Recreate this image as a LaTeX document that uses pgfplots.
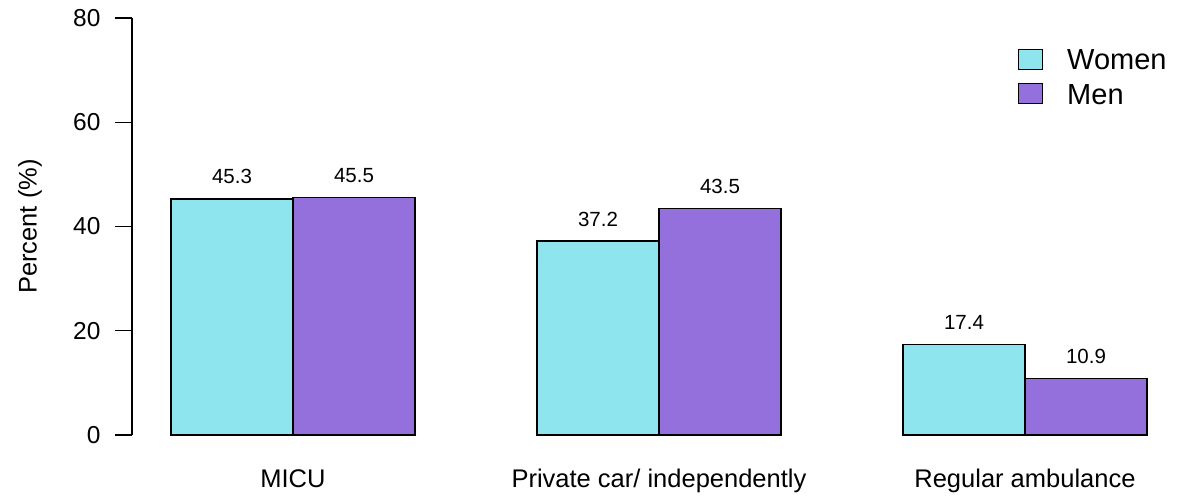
\documentclass[border=0pt]{standalone}
\usepackage{fontspec}
\setmainfont{Liberation Sans}
\usepackage{pgfplots}
\pgfplotsset{compat=1.18}
\definecolor{women}{HTML}{8EE5EE}
\definecolor{men}{HTML}{9370DB}
\begin{document}
\begin{tikzpicture}
\path[use as bounding box] (0,0) rectangle (1178bp,500bp);
\begin{axis}[
  at={(132bp,65bp)}, anchor=south west,
  scale only axis, width=1046bp, height=417bp,
  xmin=0.6803, xmax=9.2541, ymin=0, ymax=80,
  enlargelimits=false, clip=false,
  axis y line*=left, axis x line*=bottom,
  x axis line style={draw=none},
  y axis line style={-, line width=1.3bp},
  xtick={2,5,8},
  xticklabels={MICU, Private car/ independently, Regular ambulance},
  xtick style={draw=none},
  ytick={0,20,40,60,80},
  tick align=outside, major tick length=17bp,
  ytick style={line width=1.3bp, black},
  /pgf/number format/assume math mode=true,
  yticklabel style={font=\fontsize{24.5bp}{29bp}\selectfont, anchor=east, xshift=-11bp},
  xticklabel style={font=\fontsize{25.5bp}{30bp}\selectfont, anchor=base, yshift=-35bp},
  every axis y label/.style={at={(axis description cs:-0.0975,0.5)}, rotate=90, anchor=center},
  ylabel={Percent (\%)},
  ylabel style={font=\fontsize{25.5bp}{30bp}\selectfont},
  every node near coord/.append style={font=\fontsize{20.5bp}{24bp}\selectfont, anchor=base, yshift=15bp, black},
  nodes near coords={\pgfmathprintnumber[fixed,fixed zerofill,precision=1]{\pgfplotspointmeta}},
  legend style={at={(axis description cs:0.847,0.9288)}, anchor=north west, draw=none, fill=none,
    inner sep=0pt, outer sep=0pt, font=\fontsize{29bp}{35bp}\selectfont, row sep=9bp,
    /tikz/every odd column/.append style={column sep=22bp}},
  legend cell align=left,
]
\addplot[ybar, bar width=1, bar shift=0pt, fill=women, draw=black, line width=1.3bp,
  legend image code/.code={\draw[fill=women,draw=black,line width=1.3bp] (0bp,-9bp) rectangle (24bp,11bp);}]
  coordinates {(1.5,45.3) (4.5,37.2) (7.5,17.4)};
\addplot[ybar, bar width=1, bar shift=0pt, fill=men, draw=black, line width=1.3bp,
  legend image code/.code={\draw[fill=men,draw=black,line width=1.3bp] (0bp,-9bp) rectangle (24bp,11bp);}]
  coordinates {(2.5,45.5) (5.5,43.5) (8.5,10.9)};
\legend{Women,Men}
\end{axis}
\end{tikzpicture}
\end{document}
